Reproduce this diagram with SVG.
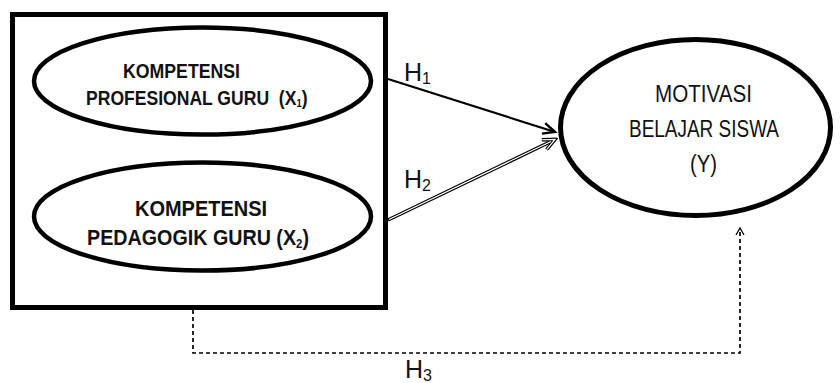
<svg xmlns="http://www.w3.org/2000/svg" width="840" height="383" viewBox="0 0 840 383">
<style>
.box{fill:none;stroke:#000;stroke-width:5}
.ell{fill:#fff;stroke:#000;stroke-width:4.5}
.lb{font-family:"Liberation Sans",Arial,sans-serif;font-weight:bold;fill:#111}
.lr{font-family:"Liberation Sans",Arial,sans-serif;fill:#111}
.h{font-family:"Liberation Sans",Arial,sans-serif;font-size:25px;fill:#111}
.sub{font-size:16px}
.solid{fill:none;stroke:#000;stroke-width:2.2}
.dbl-out{fill:none;stroke:#000;stroke-width:3.6}
.dbl-in{fill:none;stroke:#fff;stroke-width:1.2}
.dash{fill:none;stroke:#000;stroke-width:1.7;stroke-dasharray:4 3}
</style>
<defs>
<marker id="a1" markerUnits="userSpaceOnUse" markerWidth="16" markerHeight="14" refX="13" refY="7" orient="auto">
<path d="M1,1.5 L13,7 L1,12.5" fill="none" stroke="#000" stroke-width="2.4"/>
</marker>
<marker id="a2" markerUnits="userSpaceOnUse" markerWidth="16" markerHeight="14" refX="13" refY="7" orient="auto">
<path d="M1,1.5 L13,7 L1,12.5" fill="none" stroke="#000" stroke-width="3.6"/>
<path d="M1,1.5 L13,7 L1,12.5" fill="none" stroke="#fff" stroke-width="1.2"/>
</marker>
<marker id="a3" markerUnits="userSpaceOnUse" markerWidth="10" markerHeight="10" refX="8" refY="5" orient="auto">
<path d="M1,1 L8,5 L1,9" fill="none" stroke="#000" stroke-width="1.3"/>
</marker>
</defs>

<g id="connectors">
<line class="solid" x1="388" y1="79" x2="555" y2="132" marker-end="url(#a1)"/>
<line class="dbl-out" x1="388" y1="220" x2="555" y2="139.5" marker-end="url(#a2)"/>
<line class="dbl-in" x1="389" y1="219.5" x2="551" y2="141.5"/>
<path class="dash" d="M193,310 L193,353 L740,353 L740,228" marker-end="url(#a3)"/>
<text class="h" x="404" y="81">H<tspan class="sub" dy="3">1</tspan></text>
<text class="h" x="404" y="188">H<tspan class="sub" dy="3">2</tspan></text>
<text class="h" x="405" y="378">H<tspan class="sub" dy="3">3</tspan></text>
</g>

<g id="group-box">
<rect class="box" x="12.5" y="14.5" width="373" height="293"/>
</g>

<g id="node-x1">
<ellipse class="ell" cx="202.5" cy="81" rx="168.5" ry="53.5"/>
<text class="lb" font-size="20.5" x="123" y="78" textLength="117" lengthAdjust="spacingAndGlyphs">KOMPETENSI</text>
<text class="lb" font-size="20.5" transform="translate(86,105) scale(0.857,1)" xml:space="preserve">PROFESIONAL GURU  (X<tspan font-size="11" dy="1.5">1</tspan><tspan dy="-1.5">)</tspan></text>
</g>

<g id="node-x2">
<ellipse class="ell" cx="202.5" cy="216.5" rx="168.5" ry="54"/>
<text class="lb" font-size="22.5" x="135" y="216" textLength="132" lengthAdjust="spacingAndGlyphs">KOMPETENSI</text>
<text class="lb" font-size="22.5" transform="translate(87,245) scale(0.876,1)">PEDAGOGIK GURU (X<tspan font-size="13" dy="3">2</tspan><tspan dy="-3">)</tspan></text>
</g>

<g id="node-y">
<ellipse class="ell" style="stroke-width:5" cx="695.5" cy="127.5" rx="135" ry="88"/>
<text class="lr" font-size="23" x="655" y="102" textLength="97" lengthAdjust="spacingAndGlyphs">MOTIVASI</text>
<text class="lr" font-size="23" x="629" y="137" textLength="150" lengthAdjust="spacingAndGlyphs">BELAJAR SISWA</text>
<text class="lr" font-size="23" x="690" y="172" textLength="27" lengthAdjust="spacingAndGlyphs">(Y)</text>
</g>
</svg>
